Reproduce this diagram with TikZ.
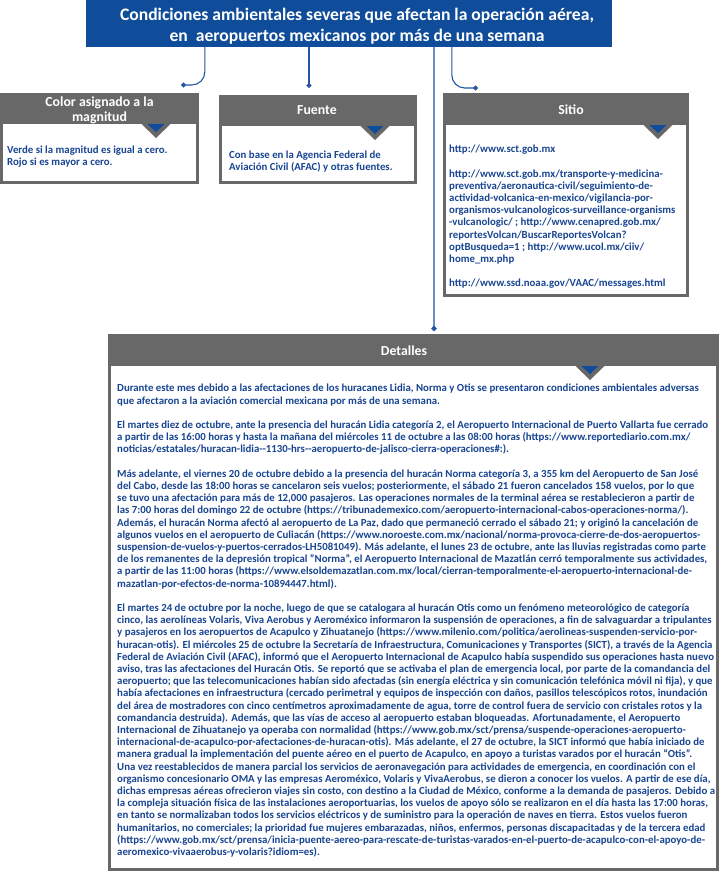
\documentclass[tikz,border=0pt]{standalone}
\usepackage{fontspec}
\setmainfont{Carlito}
\usetikzlibrary{arrows.meta}
\definecolor{titleblue}{HTML}{0F4C99}
\definecolor{txtblue}{HTML}{184592}
\definecolor{boxgray}{HTML}{686868}
\definecolor{lineblue}{HTML}{2355A3}
\definecolor{paleblue}{HTML}{6A90C8}
\begin{document}
\begin{tikzpicture}[x=1pt,y=-1pt,
    hd/.style={text=white,font=\bfseries\fontsize{13.8}{15}\selectfont,align=center,inner sep=0},
    body/.style={text=txtblue,font=\bfseries\fontsize{10.8}{12.2}\selectfont,align=left,anchor=north west,inner sep=0},
    conn/.style={draw=lineblue,line width=1.1pt,rounded corners=13pt,-{Circle[length=5pt,color=lineblue]}}]
  \useasboundingbox (0,0) rectangle (720,873);
  % title
  \node[fill=titleblue,minimum width=526pt,minimum height=47pt,inner sep=0] (title) at (349,23.5) {};
  \node[text=white,font=\bfseries\fontsize{17.6}{21}\selectfont,align=center,inner sep=0] (titletext) at (357,26)
    {Condiciones ambientales severas que afectan la operación aérea,\\en\ \ aeropuertos mexicanos por más de una semana};
  % panels: left, top, right, bottom, header bottom, pointer
  \foreach \xa/\ya/\xb/\yb/\yh/\xt in {0/93/199/184/124/156, 219/95/417/184/126/375,
      443/93/689/297/125/658, 108/334/719/871/366/590} {
    \fill[boxgray] (\xa,\ya) rectangle (\xb,\yb);
    \fill[white] (\xa+3,\yh) rectangle (\xb-3,\yb-3);
    \fill[boxgray] (\xt-14.5,\yh) -- (\xt+14.5,\yh) -- (\xt,\yh+14) -- cycle;
    \fill[titleblue] (\xt-8.5,\yh) -- (\xt+8.5,\yh) -- (\xt,\yh+8) -- cycle;
  }
  \node[hd] (color) at (99.5,110) {Color asignado a la\\magnitud};
  \node[hd] (fuente) at (317,110) {Fuente};
  \node[hd] (sitio) at (571,110) {Sitio};
  \node[hd] (detalles) at (404,351) {Detalles};
  % connectors
  \coordinate (d1) at (181,85);
  \coordinate (d2) at (309,88);
  \coordinate (d3) at (434,331);
  \coordinate (d4) at (478,88);
  \draw[conn] ([xshift=119pt]title.south west) |- (d1);
  \draw[conn] (d2 |- title.south) -- (d2);
  \draw[conn,draw=paleblue,line width=1.4pt] (d3 |- title.south) -- (d3);
  \draw[conn] ([xshift=366pt]title.south west) |- (d4);
  % texts
  \node[body] (colortext) at (7,146) {Verde si la magnitud es igual a cero.\\Rojo si es mayor a cero.};
  \node[body] (fuentetext) at (229,150.5) {Con base en la Agencia Federal de\\Aviación Civil (AFAC) y otras fuentes.};
  \node[body] (sitiotext) at (449,145) {http://www.sct.gob.mx\\[12.2pt]
    http://www.sct.gob.mx/transporte-y-medicina-\\
    preventiva/aeronautica-civil/seguimiento-de-\\
    actividad-volcanica-en-mexico/vigilancia-por-\\
    organismos-vulcanologicos-surveillance-organisms\\
    -vulcanologic/ ; http://www.cenapred.gob.mx/\\
    reportesVolcan/BuscarReportesVolcan?\\
    optBusqueda=1 ; http://www.ucol.mx/ciiv/\\
    home\_mx.php\\[12.2pt]
    http://www.ssd.noaa.gov/VAAC/messages.html};
  \node[body] (detallestext) at (117,384) {Durante este mes debido a las afectaciones de los huracanes Lidia, Norma y Otis se presentaron condiciones ambientales adversas\\
    que afectaron a la aviación comercial mexicana por más de una semana.\\[12.2pt]
    El martes diez de octubre, ante la presencia del huracán Lidia categoría 2, el Aeropuerto Internacional de Puerto Vallarta fue cerrado\\
    a partir de las 16:00 horas y hasta la mañana del miércoles 11 de octubre a las 08:00 horas (https://www.reportediario.com.mx/\\
    noticias/estatales/huracan-lidia-{}-1130-hrs-{}-aeropuerto-de-jalisco-cierra-operaciones\#:).\\[12.2pt]
    Más adelante, el viernes 20 de octubre debido a la presencia del huracán Norma categoría 3, a 355 km del Aeropuerto de San José\\
    del Cabo, desde las 18:00 horas se cancelaron seis vuelos; posteriormente, el sábado 21 fueron cancelados 158 vuelos, por lo que\\
    se tuvo una afectación para más de 12,000 pasajeros. Las operaciones normales de la terminal aérea se restablecieron a partir de\\
    las 7:00 horas del domingo 22 de octubre (https://tribunademexico.com/aeropuerto-internacional-cabos-operaciones-norma/).\\
    Además, el huracán Norma afectó al aeropuerto de La Paz, dado que permaneció cerrado el sábado 21; y originó la cancelación de\\
    algunos vuelos en el aeropuerto de Culiacán (https://www.noroeste.com.mx/nacional/norma-provoca-cierre-de-dos-aeropuertos-\\
    suspension-de-vuelos-y-puertos-cerrados-LH5081049). Más adelante, el lunes 23 de octubre, ante las lluvias registradas como parte\\
    de los remanentes de la depresión tropical "Norma", el Aeropuerto Internacional de Mazatlán cerró temporalmente sus actividades,\\
    a partir de las 11:00 horas (https://www.elsoldemazatlan.com.mx/local/cierran-temporalmente-el-aeropuerto-internacional-de-\\
    mazatlan-por-efectos-de-norma-10894447.html).\\[12.2pt]
    El martes 24 de octubre por la noche, luego de que se catalogara al huracán Otis como un fenómeno meteorológico de categoría\\
    cinco, las aerolíneas Volaris, Viva Aerobus y Aeroméxico informaron la suspensión de operaciones, a fin de salvaguardar a tripulantes\\
    y pasajeros en los aeropuertos de Acapulco y Zihuatanejo (https://www.milenio.com/politica/aerolineas-suspenden-servicio-por-\\
    huracan-otis). El miércoles 25 de octubre la Secretaría de Infraestructura, Comunicaciones y Transportes (SICT), a través de la Agencia\\
    Federal de Aviación Civil (AFAC), informó que el Aeropuerto Internacional de Acapulco había suspendido sus operaciones hasta nuevo\\
    aviso, tras las afectaciones del Huracán Otis. Se reportó que se activaba el plan de emergencia local, por parte de la comandancia del\\
    aeropuerto; que las telecomunicaciones habían sido afectadas (sin energía eléctrica y sin comunicación telefónica móvil ni fija), y que\\
    había afectaciones en infraestructura (cercado perimetral y equipos de inspección con daños, pasillos telescópicos rotos, inundación\\
    del área de mostradores con cinco centímetros aproximadamente de agua, torre de control fuera de servicio con cristales rotos y la\\
    comandancia destruida). Además, que las vías de acceso al aeropuerto estaban bloqueadas. Afortunadamente, el Aeropuerto\\
    Internacional de Zihuatanejo ya operaba con normalidad (https://www.gob.mx/sct/prensa/suspende-operaciones-aeropuerto-\\
    internacional-de-acapulco-por-afectaciones-de-huracan-otis). Más adelante, el 27 de octubre, la SICT informó que había iniciado de\\
    manera gradual la implementación del puente aéreo en el puerto de Acapulco, en apoyo a turistas varados por el huracán “Otis”.\\
    Una vez reestablecidos de manera parcial los servicios de aeronavegación para actividades de emergencia, en coordinación con el\\
    organismo concesionario OMA y las empresas Aeroméxico, Volaris y VivaAerobus, se dieron a conocer los vuelos. A partir de ese día,\\
    dichas empresas aéreas ofrecieron viajes sin costo, con destino a la Ciudad de México, conforme a la demanda de pasajeros. Debido a\\
    la compleja situación física de las instalaciones aeroportuarias, los vuelos de apoyo sólo se realizaron en el día hasta las 17:00 horas,\\
    en tanto se normalizaban todos los servicios eléctricos y de suministro para la operación de naves en tierra. Estos vuelos fueron\\
    humanitarios, no comerciales; la prioridad fue mujeres embarazadas, niños, enfermos, personas discapacitadas y de la tercera edad\\
    (https://www.gob.mx/sct/prensa/inicia-puente-aereo-para-rescate-de-turistas-varados-en-el-puerto-de-acapulco-con-el-apoyo-de-\\
    aeromexico-vivaaerobus-y-volaris?idiom=es).};
\end{tikzpicture}
\end{document}
